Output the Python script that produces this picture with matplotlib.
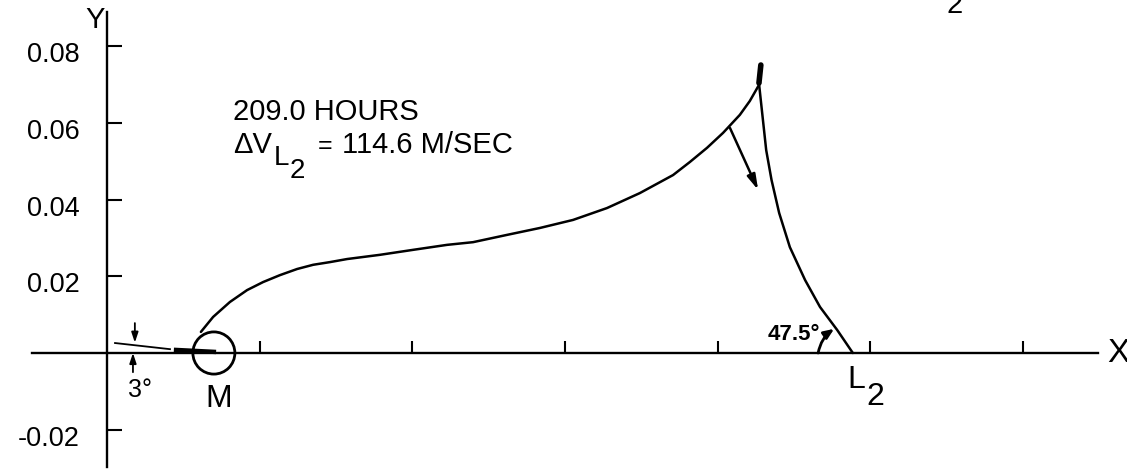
import matplotlib
matplotlib.use("Agg")
import matplotlib.pyplot as plt
from matplotlib.patches import Ellipse
from matplotlib.transforms import ScaledTranslation

plt.rcParams['font.family'] = ['Liberation Sans', 'DejaVu Sans']

# ---- data (normalized units) ----
y_ticks = [-0.02, 0.02, 0.04, 0.06, 0.08]
y_tick_labels = ['-0.02', '0.02', '0.04', '0.06', '0.08']
x_ticks = [0.04, 0.08, 0.12, 0.16, 0.20, 0.24]

# outbound leg from the Moon to the patch point
out_x = [0.0246, 0.0278, 0.0322, 0.0367, 0.0409, 0.0453, 0.0498, 0.0540, 0.0584,
         0.0629, 0.0715, 0.0802, 0.0891, 0.0959, 0.1048, 0.1134, 0.1221, 0.1310,
         0.1396, 0.1483, 0.1527, 0.1572, 0.1614, 0.1658, 0.1684, 0.1711]
out_y = [0.0055, 0.0094, 0.0133, 0.0164, 0.0185, 0.0203, 0.0219, 0.0230, 0.0237,
         0.0245, 0.0256, 0.0269, 0.0282, 0.0289, 0.0308, 0.0326, 0.0347, 0.0378,
         0.0417, 0.0464, 0.0498, 0.0535, 0.0574, 0.0621, 0.0657, 0.0704]

# leg from the patch point down to L2
in_x = [0.1708, 0.1717, 0.1727, 0.1741, 0.1761, 0.1789, 0.1829, 0.1868, 0.1913, 0.1954]
in_y = [0.0704, 0.0621, 0.0529, 0.0451, 0.0365, 0.0276, 0.0190, 0.0120, 0.0060, 0.0000]

patch_mark_x = [0.1713, 0.1708]
patch_mark_y = [0.0751, 0.0704]

dv_arrow_start = (0.1632, 0.0587)
dv_arrow_end = (0.1706, 0.0425)

moon_center = (0.0280, 0.0000)
moon_diam = (0.0110, 0.0110)

depart_thin_x = [0.0021, 0.0165]
depart_thin_y = [0.0026, 0.0010]
depart_thick_x = [0.0181, 0.0280]
depart_thick_y = [0.0008, 0.0003]

angle_arc_start = (0.1863, 0.0000)
angle_arc_end = (0.1905, 0.0063)

# ---- figure ----
W, H = 1127, 469
fig = plt.figure(figsize=(W / 100, H / 100), dpi=100)
ax = fig.add_axes([0, 0, 1, 1])
x0_px, y0_px = 107, 353
sx, sy = 3817.0, 3835.0
ax.set_xlim(-x0_px / sx, (W - x0_px) / sx)
ax.set_ylim(-(H - y0_px) / sy, y0_px / sy)

for s in ['top', 'right']:
    ax.spines[s].set_visible(False)
ax.spines['left'].set_position(('data', 0))
ax.spines['bottom'].set_position(('data', 0))
ax.spines['left'].set_bounds((y0_px - 467) / sy, (y0_px - 12) / sy)
ax.spines['bottom'].set_bounds((32 - x0_px) / sx, (1098 - x0_px) / sx)
for s in ['left', 'bottom']:
    ax.spines[s].set_linewidth(1.7)
    ax.spines[s].set_color('black')

ax.set_yticks(y_ticks)
ax.set_yticklabels(y_tick_labels)
ax.set_xticks(x_ticks)
ax.set_xticklabels([])
ax.tick_params(axis='y', direction='in', length=11, width=1.5, pad=19.5,
               labelsize=19.5)
ax.tick_params(axis='x', direction='in', length=9, width=1.5)
off = ScaledTranslation(0, -6 / 100, fig.dpi_scale_trans)
for lab in ax.get_yticklabels():
    lab.set_transform(lab.get_transform() + off)

lw = 1.8
ax.plot(out_x, out_y, color='black', lw=lw, solid_capstyle='round',
        solid_joinstyle='round')
ax.plot(in_x, in_y, color='black', lw=lw, solid_capstyle='round',
        solid_joinstyle='round')
ax.plot(patch_mark_x, patch_mark_y, color='black', lw=4.0, solid_capstyle='round')

ax.annotate('', xy=dv_arrow_end, xytext=dv_arrow_start,
            arrowprops=dict(arrowstyle='-|>,head_length=0.9,head_width=0.25',
                            color='black', lw=1.8, shrinkA=0, shrinkB=0))

ax.add_patch(Ellipse(moon_center, moon_diam[0], moon_diam[1], fill=False,
                     ec='black', lw=2.0))
ax.plot(depart_thin_x, depart_thin_y, color='black', lw=1.3)
ax.plot(depart_thick_x, depart_thick_y, color='black', lw=3.2)

# 3 degree arrows
ax.annotate('', xy=(0.0073, 0.0027), xytext=(0.0073, 0.0078),
            arrowprops=dict(arrowstyle='-|>,head_length=0.6,head_width=0.2',
                            color='black', lw=1.3, shrinkA=0, shrinkB=0))
ax.annotate('', xy=(0.0068, 0.0000), xytext=(0.0068, -0.0050),
            arrowprops=dict(arrowstyle='-|>,head_length=0.6,head_width=0.2',
                            color='black', lw=1.3, shrinkA=0, shrinkB=0))

# 47.5 degree arc arrow
ax.annotate('', xy=angle_arc_end, xytext=angle_arc_start,
            arrowprops=dict(arrowstyle='-|>,head_length=0.6,head_width=0.25',
                            color='black', lw=2.0, shrinkA=0, shrinkB=0,
                            connectionstyle='arc3,rad=-0.2'))

# ---- text ----
def tx(px, py, s, size, **kw):
    ax.text((px - x0_px) / sx, (y0_px - py) / sy, s, fontsize=size, **kw)

tx(233, 120, '209.0 HOURS', 21, va='baseline', ha='left')
tx(233, 153, '\u0394V', 21, va='baseline', ha='left')
tx(274, 165, 'L', 20, va='baseline', ha='left')
tx(290, 178, '2', 20, va='baseline', ha='left')
tx(318, 153, '=', 18, va='baseline', ha='left')
tx(342, 153, '114.6 M/SEC', 21, va='baseline', ha='left')

tx(219, 407, 'M', 23, va='baseline', ha='center')
tx(847, 388, 'L', 23, va='baseline', ha='left')
tx(866, 405, '2', 23, va='baseline', ha='left')
tx(128, 397, '3\u00b0', 18, va='baseline', ha='left')
tx(768, 340, '47.5\u00b0', 16, va='baseline', ha='left', fontweight='bold')
tx(1107, 362, 'X', 24, va='baseline', ha='left')
tx(85, 28, 'Y', 21, va='baseline', ha='left')
tx(946, 13, '2', 21, va='baseline', ha='left')

fig.savefig('out.png', dpi=100)
